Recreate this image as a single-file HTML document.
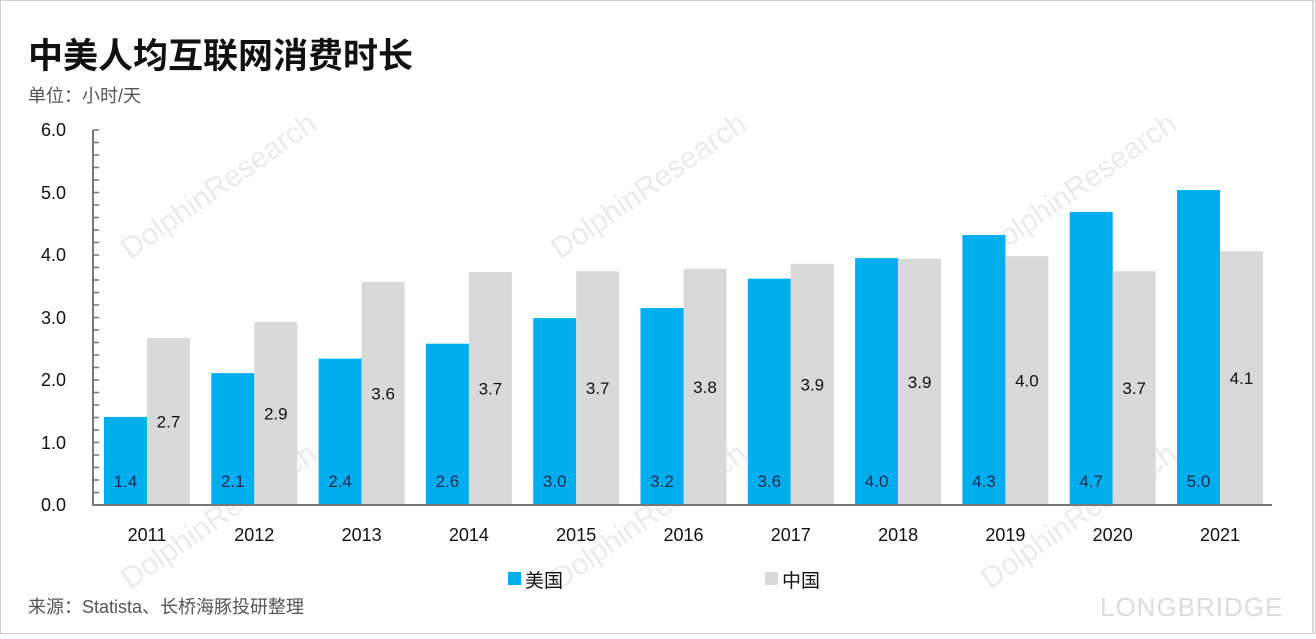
<!DOCTYPE html>
<html><head><meta charset="utf-8"><style>
body{margin:0;background:#fff}
svg text{font-family:"Liberation Sans","Noto Sans CJK SC",sans-serif}
</style></head><body>
<svg width="1316" height="634" xmlns="http://www.w3.org/2000/svg">
<rect x="0.5" y="0.5" width="1315" height="633" fill="#fff" stroke="#d0d0d0"/>
<line x1="1313" y1="0" x2="1313" y2="634" stroke="#d8d8d8" stroke-width="2"/>
<g fill="#e6e6e6" font-size="30" opacity="0.8">
<text transform="translate(130,260) rotate(-35)">DolphinResearch</text>
<text transform="translate(560,260) rotate(-35)">DolphinResearch</text>
<text transform="translate(990,260) rotate(-35)">DolphinResearch</text>
<text transform="translate(130,590) rotate(-35)">DolphinResearch</text>
<text transform="translate(560,590) rotate(-35)">DolphinResearch</text>
<text transform="translate(990,590) rotate(-35)">DolphinResearch</text>
</g>
<text x="1100" y="616" font-size="26" fill="#dcdcdc" letter-spacing="1">LONGBRIDGE</text>
<text x="28" y="68" font-size="35" font-weight="bold" fill="#111">中美人均互联网消费时长</text>
<text x="28" y="102" font-size="18" fill="#555">单位：小时/天</text>
<g font-size="18" fill="#111" text-anchor="end">
<text x="66" y="511">0.0</text><text x="66" y="449">1.0</text><text x="66" y="386">2.0</text>
<text x="66" y="324">3.0</text><text x="66" y="261">4.0</text><text x="66" y="199">5.0</text><text x="66" y="136">6.0</text>
</g>
<g fill="#00aeef">
<rect x="104" y="416.9" width="43" height="88.1"/>
<rect x="211.3" y="373.1" width="43" height="131.9"/>
<rect x="318.6" y="358.7" width="43" height="146.3"/>
<rect x="425.9" y="343.7" width="43" height="161.3"/>
<rect x="533.2" y="318.1" width="43" height="186.9"/>
<rect x="640.5" y="308.1" width="43" height="196.9"/>
<rect x="747.8" y="278.7" width="43" height="226.3"/>
<rect x="855.1" y="258.1" width="43" height="246.9"/>
<rect x="962.4" y="235" width="43" height="270"/>
<rect x="1069.7" y="211.9" width="43" height="293.1"/>
<rect x="1177" y="190" width="43" height="315"/>
</g>
<g fill="#d9d9d9">
<rect x="147" y="338.1" width="43" height="166.9"/>
<rect x="254.3" y="321.9" width="43" height="183.1"/>
<rect x="361.6" y="281.9" width="43" height="223.1"/>
<rect x="468.9" y="271.9" width="43" height="233.1"/>
<rect x="576.2" y="271.25" width="43" height="233.75"/>
<rect x="683.5" y="268.75" width="43" height="236.25"/>
<rect x="790.8" y="263.75" width="43" height="241.25"/>
<rect x="898.1" y="258.75" width="43" height="246.25"/>
<rect x="1005.4" y="256.25" width="43" height="248.75"/>
<rect x="1112.7" y="271.25" width="43" height="233.75"/>
<rect x="1220" y="251.25" width="43" height="253.75"/>
</g>
<g font-size="17" fill="#1a2b4c" text-anchor="middle">
<text x="125.5" y="487">1.4</text><text x="232.8" y="487">2.1</text><text x="340.1" y="487">2.4</text>
<text x="447.4" y="487">2.6</text><text x="554.7" y="487">3.0</text><text x="662" y="487">3.2</text>
<text x="769.3" y="487">3.6</text><text x="876.6" y="487">4.0</text><text x="983.9" y="487">4.3</text>
<text x="1091.2" y="487">4.7</text><text x="1198.5" y="487">5.0</text>
</g>
<g font-size="17" fill="#111" text-anchor="middle">
<text x="168.5" y="427.5">2.7</text><text x="275.8" y="419.5">2.9</text><text x="383.1" y="399.5">3.6</text>
<text x="490.4" y="394.5">3.7</text><text x="597.7" y="394">3.7</text><text x="705" y="393">3.8</text>
<text x="812.3" y="390.5">3.9</text><text x="919.6" y="388">3.9</text><text x="1026.9" y="386.6">4.0</text>
<text x="1134.2" y="394">3.7</text><text x="1241.5" y="384">4.1</text>
</g>
<line x1="93" y1="130" x2="93" y2="505" stroke="#777" stroke-width="2"/>
<line x1="96" y1="129.25" x2="96" y2="506" stroke="#777" stroke-width="6" stroke-dasharray="1.5 11"/>
<line x1="92" y1="505" x2="1272" y2="505" stroke="#777" stroke-width="2"/>
<g font-size="18" fill="#111" text-anchor="middle">
<text x="147" y="541">2011</text><text x="254.3" y="541">2012</text><text x="361.6" y="541">2013</text>
<text x="468.9" y="541">2014</text><text x="576.2" y="541">2015</text><text x="683.5" y="541">2016</text>
<text x="790.8" y="541">2017</text><text x="898.1" y="541">2018</text><text x="1005.4" y="541">2019</text>
<text x="1112.7" y="541">2020</text><text x="1220" y="541">2021</text>
</g>
<rect x="508" y="572" width="13" height="13" fill="#00aeef"/>
<text x="525" y="587" font-size="19" fill="#111">美国</text>
<rect x="765" y="572" width="13" height="13" fill="#d9d9d9"/>
<text x="782" y="587" font-size="19" fill="#111">中国</text>
<text x="28" y="613" font-size="18" fill="#555">来源：Statista、长桥海豚投研整理</text>
</svg>
</body></html>
